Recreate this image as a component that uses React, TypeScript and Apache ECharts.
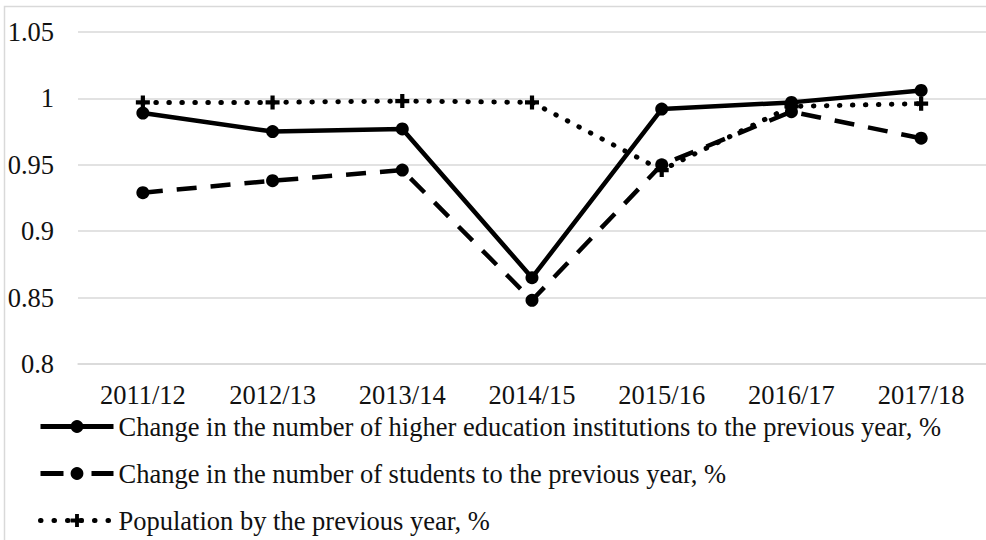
import React, { useEffect, useRef } from "react";
import * as echarts from "echarts";

const categories = ["2011/12", "2012/13", "2013/14", "2014/15", "2015/16", "2016/17", "2017/18"];
const institutions = [0.989, 0.975, 0.977, 0.865, 0.992, 0.997, 1.006];
const students = [0.929, 0.938, 0.946, 0.848, 0.950, 0.990, 0.970];
const population = [0.997, 0.997, 0.998, 0.997, 0.946, 0.994, 0.996];
const seriesNames = [
  "Change in the number of higher education institutions to the previous year, %",
  "Change in the number of students to the previous year, %",
  "Population by the previous year, %",
];

const FONT = "Times New Roman, Liberation Serif, DejaVu Serif, serif";
const TEXT = "#111111";
const FS = 26.5;
const plusSymbol = "path://M3.5,0h3v3.5h3.5v3h-3.5v3.5h-3v-3.5h-3.5v-3h3.5z";

const solidStyle = { color: "#000", width: 4.5 };
const dashStyle = { color: "#000", width: 4.5, type: [20, 14], cap: "butt" };
const dotStyle = { color: "#000", width: 5, type: [0.5, 12.5], cap: "round" };

export default function App() {
  const ref = useRef<HTMLDivElement>(null);
  useEffect(() => {
    if (!ref.current) return;
    const chart = echarts.init(ref.current, undefined, { renderer: "svg" });
    chart.setOption({
      animation: false,
      backgroundColor: "#ffffff",
      textStyle: { fontFamily: FONT },
      graphic: [
        {
          type: "rect",
          shape: { x: 4.5, y: 6.5, width: 1000, height: 560 },
          style: { fill: "none", stroke: "#d9d9d9", lineWidth: 1.5 },
          silent: true,
        },
      ],
      grid: { left: 78, width: 910, top: 32, height: 332 },
      xAxis: {
        type: "category",
        data: categories,
        boundaryGap: true,
        axisLine: { show: true, lineStyle: { color: "#d9d9d9", width: 1.5 } },
        axisTick: { show: false },
        axisLabel: { color: TEXT, fontSize: FS, fontFamily: FONT, margin: 17 },
      },
      yAxis: {
        type: "value",
        min: 0.8,
        max: 1.05,
        interval: 0.05,
        axisLine: { show: false },
        axisTick: { show: false },
        axisLabel: {
          color: TEXT,
          fontSize: FS,
          fontFamily: FONT,
          margin: 24,
          formatter: (v: number) => String(Math.round(v * 100) / 100),
        },
        splitLine: { lineStyle: { color: "#d9d9d9", width: 1.5 } },
      },
      legend: {
        orient: "vertical",
        left: 38,
        top: 413,
        height: 140,
        padding: 0,
        itemWidth: 73,
        itemHeight: 16,
        itemGap: 20,
        textStyle: { color: TEXT, fontSize: FS, lineHeight: 26, fontFamily: FONT },
        data: [
          { name: seriesNames[0], lineStyle: { width: 5 } },
          { name: seriesNames[1], lineStyle: { width: 5, type: [23, 28] } },
          { name: seriesNames[2], lineStyle: { width: 5, type: [0.5, 13] } },
        ],
      },
      series: [
        {
          name: seriesNames[0],
          type: "line",
          data: institutions,
          symbol: "circle",
          symbolSize: 13,
          itemStyle: { color: "#000" },
          lineStyle: solidStyle,
          z: 3,
        },
        {
          name: seriesNames[1],
          type: "line",
          data: students,
          symbol: "circle",
          symbolSize: 13,
          itemStyle: { color: "#000" },
          lineStyle: dashStyle,
          z: 2,
        },
        {
          name: seriesNames[2],
          type: "line",
          data: population,
          symbol: plusSymbol,
          symbolSize: 14,
          itemStyle: { color: "#000" },
          lineStyle: dotStyle,
          z: 1,
        },
      ],
    });
    return () => chart.dispose();
  }, []);
  return (
    <div
      ref={ref}
      style={{ position: "fixed", left: 0, top: 0, width: 986, height: 540 }}
    />
  );
}
